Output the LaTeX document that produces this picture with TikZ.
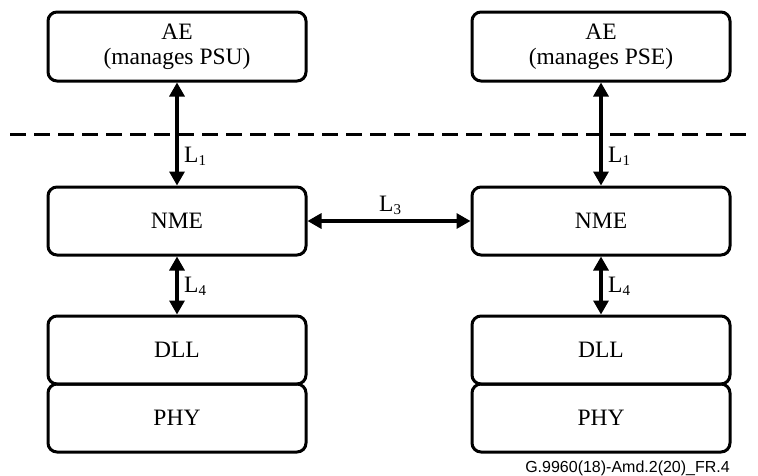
\documentclass[tikz,border=0pt]{standalone}
\usepackage{fontspec}
\setmainfont{Liberation Serif}
\newfontfamily\footfont{Liberation Sans}
\usetikzlibrary{arrows.meta}
\newcommand{\lsub}[1]{\raisebox{-0.35ex}{\fontsize{15}{15}\selectfont #1}}
\begin{document}
\begin{tikzpicture}[x=1pt,y=-1pt,
  layerbox/.style={draw, line width=3pt, rounded corners=9pt, minimum width=258pt, minimum height=68pt, inner sep=0pt, align=center, font=\fontsize{23.5}{25}\selectfont},
  link/.style={line width=3.2pt, {Triangle[width=15pt,length=14pt]}-{Triangle[width=15pt,length=14pt]}},
  lbl/.style={anchor=base west, inner sep=0pt, font=\fontsize{23.5}{25}\selectfont}]
\useasboundingbox (0,0) rectangle (758,475);
% left column
\node[layerbox, minimum height=69pt] (aeL) at (177,46.5) {AE\\(manages PSU)};
\node[layerbox] (nmeL) at (177,221) {NME};
\node[layerbox] (dllL) at (177,350) {DLL};
\node[layerbox] (phyL) at (177,418) {PHY};
% right column
\node[layerbox, minimum height=69pt] (aeR) at (601,46.5) {AE\\(manages PSE)};
\node[layerbox] (nmeR) at (601,221) {NME};
\node[layerbox] (dllR) at (601,350) {DLL};
\node[layerbox] (phyR) at (601,418) {PHY};
% dashed boundary
\coordinate (dashA) at (10,134);
\coordinate (dashB) at (752,134);
\draw[line width=3pt, dash pattern=on 16pt off 8pt] (dashA) -- (dashB);
% connectors
\draw[link] (aeL.south) -- (nmeL.north);
\draw[link] (aeR.south) -- (nmeR.north);
\draw[link] (nmeL.south) -- (dllL.north);
\draw[link] (nmeR.south) -- (dllR.north);
\draw[link] (nmeL.east) -- (nmeR.west);
% labels
\node[lbl] (l1L) at (184,162) {L\lsub{1}};
\node[lbl] (l1R) at (608,162) {L\lsub{1}};
\node[lbl] (l4L) at (184,292) {L\lsub{4}};
\node[lbl] (l4R) at (608,292) {L\lsub{4}};
\node[lbl] (l3) at (379,211) {L\lsub{3}};
% figure id
\node[anchor=base east, inner sep=0pt, font=\footfont\fontsize{16}{18}\selectfont] (fig) at (730,472) {G.9960(18)-Amd.2(20)\_FR.4};
\end{tikzpicture}
\end{document}
